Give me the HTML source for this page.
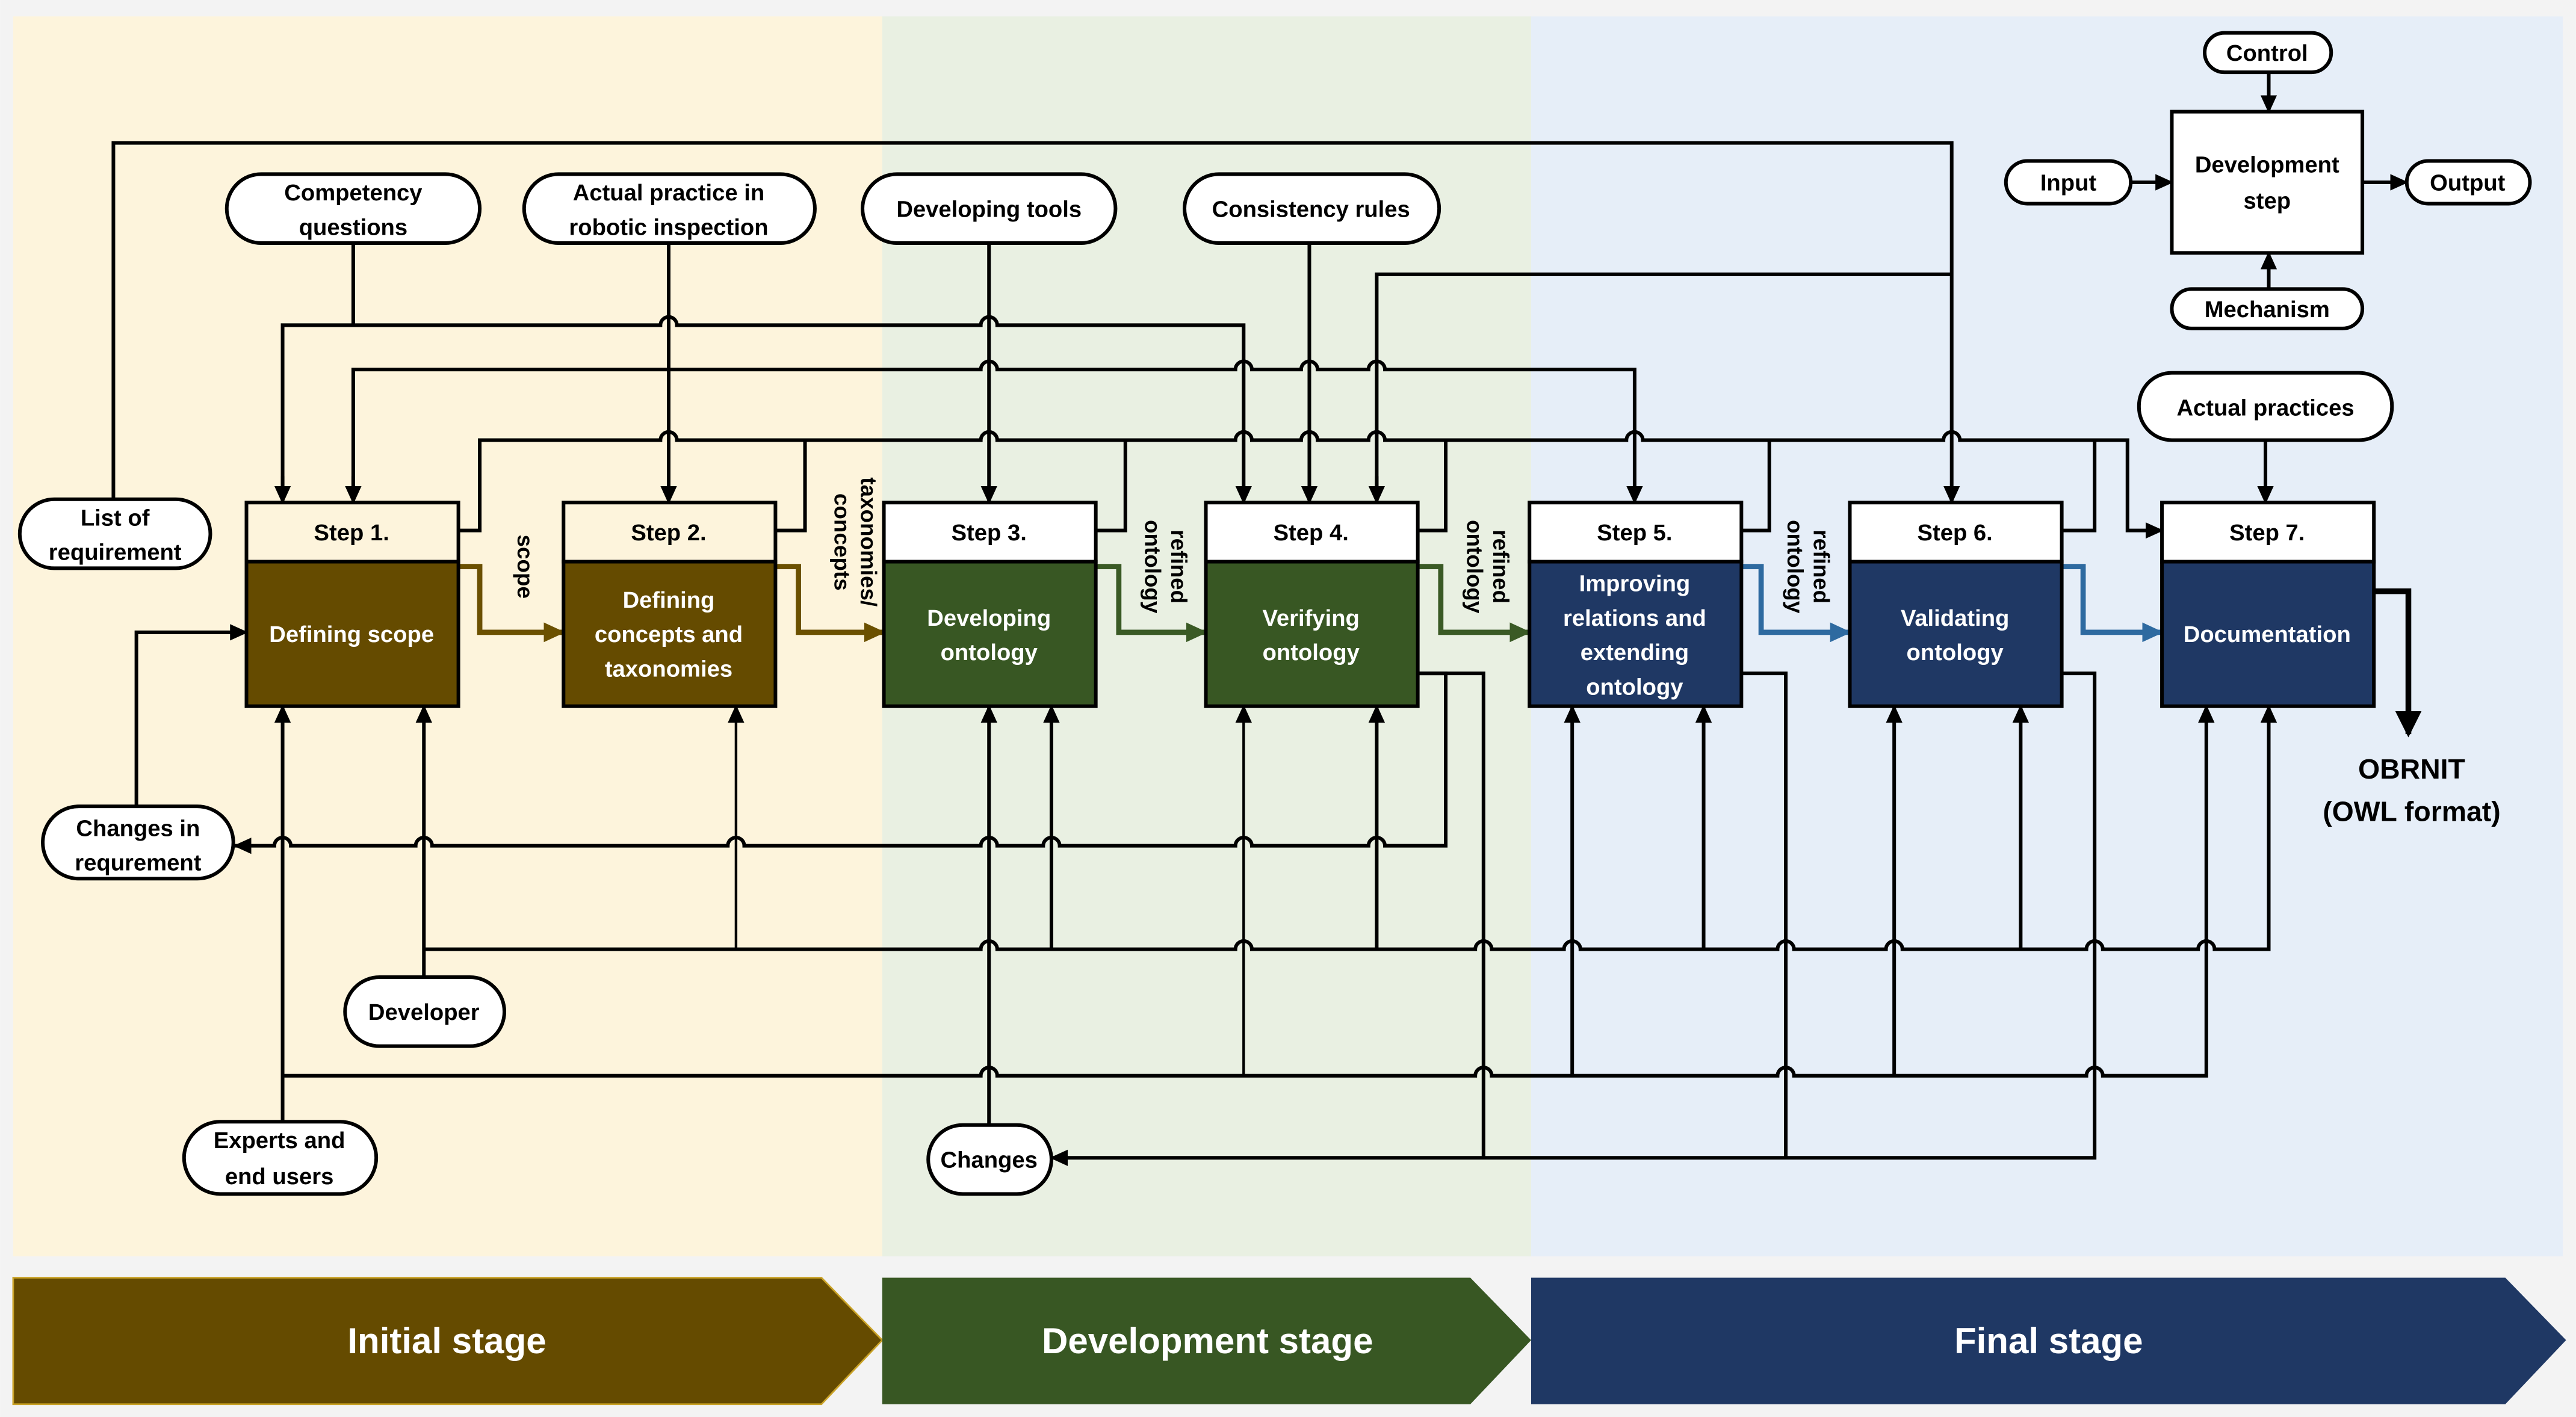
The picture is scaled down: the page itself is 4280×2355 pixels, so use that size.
<!DOCTYPE html>
<html><head><meta charset="utf-8"><style>
html,body{margin:0;padding:0;background:#fff}
svg{display:block}
text{font-family:"Liberation Sans",sans-serif;font-weight:bold}
</style></head><body>
<svg width="4280" height="2355" viewBox="0 0 1568 862.8" xmlns="http://www.w3.org/2000/svg">
<defs>
<marker id="a" markerUnits="userSpaceOnUse" markerWidth="12" markerHeight="12" refX="10" refY="5" orient="auto"><path d="M0,0 L11,5 L0,10 z" fill="#000"/></marker>
<marker id="ab" markerUnits="userSpaceOnUse" markerWidth="14" markerHeight="14" refX="12" refY="6" orient="auto"><path d="M0,0 L13,6 L0,12 z" fill="#6b5000"/></marker>
<marker id="ag" markerUnits="userSpaceOnUse" markerWidth="14" markerHeight="14" refX="12" refY="6" orient="auto"><path d="M0,0 L13,6 L0,12 z" fill="#3a5a25"/></marker>
<marker id="au" markerUnits="userSpaceOnUse" markerWidth="14" markerHeight="14" refX="12" refY="6" orient="auto"><path d="M0,0 L13,6 L0,12 z" fill="#2e6aa0"/></marker>
<marker id="ak" markerUnits="userSpaceOnUse" markerWidth="16" markerHeight="16" refX="8" refY="14" orient="0"><path d="M0,0 L16,0 L8,16 z" fill="#000"/></marker>
</defs>
<rect width="1568" height="863" fill="#f3f3f3"/>
<rect x="8" y="10" width="529" height="755" fill="#fdf4dc"/>
<rect x="537" y="10" width="395" height="755" fill="#e9f0e2"/>
<rect x="932" y="10" width="628" height="755" fill="#e6eef8"/>

<polygon points="8,778 500,778 537,816 500,855 8,855" fill="#654b00" stroke="#c9a227" stroke-width="1"/>
<polygon points="537,778 895,778 932,816 895,855 537,855" fill="#385723"/>
<polygon points="932,778 1525,778 1562,816 1525,855 932,855" fill="#1f3864"/>
<text x="272" y="824" font-size="22" fill="#fff" text-anchor="middle">Initial stage</text>
<text x="735" y="824" font-size="22" fill="#fff" text-anchor="middle">Development stage</text>
<text x="1247" y="824" font-size="22" fill="#fff" text-anchor="middle">Final stage</text>

<g fill="none" stroke="#000" stroke-width="2.2">
<path d="M69 304 V87 H1188 V306" marker-end="url(#a)"/>
<path d="M838 306 V167 H1188"/>
<path d="M838 290 V306" marker-end="url(#a)"/>
<path d="M215 148 V198"/>
<path d="M172 306 V198 H402 A5 5 0 0 1 412 198 H597 A5 5 0 0 1 607 198 H757 V306" marker-end="url(#a)"/>
<path d="M172 290 V306" marker-end="url(#a)"/>
<path d="M407 148 V306" marker-end="url(#a)"/>
<path d="M215 306 V225 H597 A5 5 0 0 1 607 225 H752 A5 5 0 0 1 762 225 H792 A5 5 0 0 1 802 225 H833 A5 5 0 0 1 843 225 H995 V306" marker-end="url(#a)"/>
<path d="M215 290 V306" marker-end="url(#a)"/>
<path d="M602 148 V306" marker-end="url(#a)"/>
<path d="M797 148 V306" marker-end="url(#a)"/>
<path d="M279 323 H292 V268 H402 A5 5 0 0 1 412 268 H597 A5 5 0 0 1 607 268 H752 A5 5 0 0 1 762 268 H792 A5 5 0 0 1 802 268 H833 A5 5 0 0 1 843 268 H990 A5 5 0 0 1 1000 268 H1183 A5 5 0 0 1 1193 268 H1295 V323 H1316" marker-end="url(#a)"/>
<path d="M472 323 H490 V268"/>
<path d="M667 323 H685 V268"/>
<path d="M863 323 H880 V268"/>
<path d="M1060 323 H1077 V268"/>
<path d="M1255 323 H1275 V268"/>
<path d="M1379 268 V306" marker-end="url(#a)"/>

<path d="M1445 360 H1466 V447" stroke-width="3.5" marker-end="url(#ak)"/>

<path d="M863 410 H880 V515 H843 A5 5 0 0 0 833 515 H762 A5 5 0 0 0 752 515 H645 A5 5 0 0 0 635 515 H607 A5 5 0 0 0 597 515 H453 A5 5 0 0 0 443 515 H263 A5 5 0 0 0 253 515 H177 A5 5 0 0 0 167 515 H143" marker-end="url(#a)"/>
<path d="M83 490 V385 H150" marker-end="url(#a)"/>
<path d="M258 595 V430" marker-end="url(#a)"/>
<path d="M258 578 H597 A5 5 0 0 1 607 578 H752 A5 5 0 0 1 762 578 H898 A5 5 0 0 1 908 578 H952 A5 5 0 0 1 962 578 H1082 A5 5 0 0 1 1092 578 H1148 A5 5 0 0 1 1158 578 H1270 A5 5 0 0 1 1280 578 H1338 A5 5 0 0 1 1348 578 H1381 V430" marker-end="url(#a)"/>
<path d="M448 578 V430" stroke-width="1.6" marker-end="url(#a)"/>
<path d="M640 578 V430" marker-end="url(#a)"/>
<path d="M838 578 V430" marker-end="url(#a)"/>
<path d="M1037 578 V430" marker-end="url(#a)"/>
<path d="M1230 578 V430" marker-end="url(#a)"/>
<path d="M172 683 V430" marker-end="url(#a)"/>
<path d="M172 655 H597 A5 5 0 0 1 607 655 H898 A5 5 0 0 1 908 655 H1082 A5 5 0 0 1 1092 655 H1270 A5 5 0 0 1 1280 655 H1343 V430" marker-end="url(#a)"/>
<path d="M757 655 V430" stroke-width="1.6" marker-end="url(#a)"/>
<path d="M957 655 V430" marker-end="url(#a)"/>
<path d="M1153 655 V430" marker-end="url(#a)"/>
<path d="M602 685 V430" marker-end="url(#a)"/>
<path d="M863 410 H903 V705"/>
<path d="M1060 410 H1087 V705"/>
<path d="M1255 410 H1275 V705 H640" marker-end="url(#a)"/>

<path d="M1381 44 V68" marker-end="url(#a)"/>
<path d="M1297 111 H1322" marker-end="url(#a)"/>
<path d="M1438 111 H1465" marker-end="url(#a)"/>
<path d="M1381 176 V154" marker-end="url(#a)"/>
</g>

<g fill="none" stroke-width="3.2">
<path d="M279 345 H292 V385 H343" stroke="#6b5000" marker-end="url(#ab)"/>
<path d="M472 345 H486 V385 H538" stroke="#6b5000" marker-end="url(#ab)"/>
<path d="M667 345 H681 V385 H734" stroke="#3a5a25" marker-end="url(#ag)"/>
<path d="M863 345 H877 V385 H931" stroke="#3a5a25" marker-end="url(#ag)"/>
<path d="M1060 345 H1072 V385 H1126" stroke="#2e6aa0" marker-end="url(#au)"/>
<path d="M1255 345 H1268 V385 H1316" stroke="#2e6aa0" marker-end="url(#au)"/>
</g>
<g font-size="13.5" fill="#000">
<text transform="translate(315,345) rotate(90)" text-anchor="middle">scope</text>
<text transform="translate(508,330) rotate(90)" text-anchor="middle">concepts</text>
<text transform="translate(524,330) rotate(90)" text-anchor="middle">taxonomies/</text>
<text transform="translate(697,345) rotate(90)" text-anchor="middle">ontology</text>
<text transform="translate(713,345) rotate(90)" text-anchor="middle">refined</text>
<text transform="translate(893,345) rotate(90)" text-anchor="middle">ontology</text>
<text transform="translate(909,345) rotate(90)" text-anchor="middle">refined</text>
<text transform="translate(1088,345) rotate(90)" text-anchor="middle">ontology</text>
<text transform="translate(1104,345) rotate(90)" text-anchor="middle">refined</text>
</g>

<g stroke="#000" stroke-width="2.2">
<rect x="150" y="306" width="129" height="36" fill="#fdf4dc"/><rect x="150" y="342" width="129" height="88" fill="#654b00"/>
<rect x="343" y="306" width="129" height="36" fill="#fdf4dc"/><rect x="343" y="342" width="129" height="88" fill="#654b00"/>
<rect x="538" y="306" width="129" height="36" fill="#fff"/><rect x="538" y="342" width="129" height="88" fill="#385723"/>
<rect x="734" y="306" width="129" height="36" fill="#fff"/><rect x="734" y="342" width="129" height="88" fill="#385723"/>
<rect x="931" y="306" width="129" height="36" fill="#fff"/><rect x="931" y="342" width="129" height="88" fill="#1f3864"/>
<rect x="1126" y="306" width="129" height="36" fill="#fff"/><rect x="1126" y="342" width="129" height="88" fill="#1f3864"/>
<rect x="1316" y="306" width="129" height="36" fill="#fff"/><rect x="1316" y="342" width="129" height="88" fill="#1f3864"/>
<rect x="1322" y="68" width="116" height="86" fill="#fff"/>
</g>
<g font-size="14" text-anchor="middle" fill="#000">
<text x="214" y="329">Step 1.</text><text x="407" y="329">Step 2.</text><text x="602" y="329">Step 3.</text>
<text x="798" y="329">Step 4.</text><text x="995" y="329">Step 5.</text><text x="1190" y="329">Step 6.</text><text x="1380" y="329">Step 7.</text>
<text x="1380" y="105">Development</text><text x="1380" y="127">step</text>
</g>
<g font-size="14" text-anchor="middle" fill="#fff">
<text x="214" y="391">Defining scope</text>
<text x="407" y="370">Defining</text><text x="407" y="391">concepts and</text><text x="407" y="412">taxonomies</text>
<text x="602" y="381">Developing</text><text x="602" y="402">ontology</text>
<text x="798" y="381">Verifying</text><text x="798" y="402">ontology</text>
<text x="995" y="360">Improving</text><text x="995" y="381">relations and</text><text x="995" y="402">extending</text><text x="995" y="423">ontology</text>
<text x="1190" y="381">Validating</text><text x="1190" y="402">ontology</text>
<text x="1380" y="391">Documentation</text>
</g>

<g fill="#fff" stroke="#000" stroke-width="2.2">
<rect x="138" y="106" width="154" height="42" rx="21"/>
<rect x="319" y="106" width="177" height="42" rx="21"/>
<rect x="525" y="106" width="154" height="42" rx="21"/>
<rect x="721" y="106" width="155" height="42" rx="21"/>
<rect x="12" y="304" width="116" height="42" rx="21"/>
<rect x="26" y="491" width="116" height="44" rx="22"/>
<rect x="210" y="595" width="97" height="42" rx="21"/>
<rect x="112" y="683" width="117" height="44" rx="22"/>
<rect x="565" y="685" width="75" height="42" rx="21"/>
<rect x="1302" y="227" width="154" height="41" rx="20"/>
<rect x="1342" y="20" width="77" height="24" rx="12"/>
<rect x="1221" y="98" width="76" height="26" rx="13"/>
<rect x="1465" y="98" width="75" height="26" rx="13"/>
<rect x="1322" y="176" width="116" height="24" rx="12"/>
</g>
<g font-size="14" text-anchor="middle" fill="#000">
<text x="215" y="122">Competency</text><text x="215" y="143">questions</text>
<text x="407" y="122">Actual practice in</text><text x="407" y="143">robotic inspection</text>
<text x="602" y="132">Developing tools</text>
<text x="798" y="132">Consistency rules</text>
<text x="70" y="320">List of</text><text x="70" y="341">requirement</text>
<text x="84" y="509">Changes in</text><text x="84" y="530">requrement</text>
<text x="258" y="621">Developer</text>
<text x="170" y="699">Experts and</text><text x="170" y="721">end users</text>
<text x="602" y="711">Changes</text>
<text x="1379" y="253">Actual practices</text>
<text x="1380" y="37">Control</text>
<text x="1259" y="116">Input</text>
<text x="1502" y="116">Output</text>
<text x="1380" y="193">Mechanism</text>
</g>
<text x="1468" y="474" font-size="17" text-anchor="middle">OBRNIT</text>
<text x="1468" y="500" font-size="17" text-anchor="middle">(OWL format)</text>
</svg>
</body></html>
